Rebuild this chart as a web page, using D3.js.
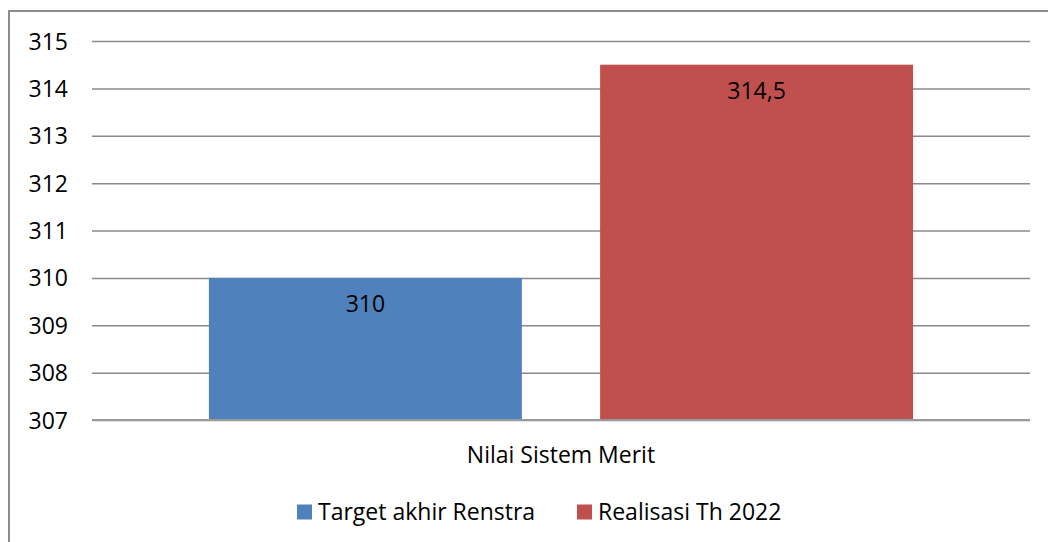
<!DOCTYPE html>
<html>
<head>
<meta charset="utf-8">
<script src="https://cdn.jsdelivr.net/npm/d3@7"></script>
<style>
  body { margin: 0; background: #fff; }
  svg text { font-family: "Open Sans", sans-serif; fill: #000; }
</style>
</head>
<body>
<svg id="chart" width="1048" height="542"></svg>
<script>
// chart data
var categories = ['Nilai Sistem Merit'];
var seriesNames = ['Target akhir Renstra', 'Realisasi Th 2022'];
var seriesValues = [310, 314.5];
var seriesLabels = ['310', '314,5'];
var seriesColors = ['#4f81bd', '#c0504d'];
var yTicks = [307, 308, 309, 310, 311, 312, 313, 314, 315];

var FONT = '23px';
var svg = d3.select('#chart');

// outer frame (only left and top visible in picture)
svg.append('path')
    .attr('d', 'M9,542 V11 H1048')
    .attr('fill', 'none')
    .attr('stroke', '#8c8c8c')
    .attr('stroke-width', 2);

var plotLeft = 92, plotRight = 1030, plotTop = 41, plotBottom = 420;

var y = d3.scaleLinear().domain([307, 315]).range([plotBottom, plotTop]);

var x0 = d3.scaleBand().domain(categories).range([plotLeft, plotRight])
    .paddingInner(0).paddingOuter(0.166);
var x1 = d3.scaleBand().domain(seriesNames).range([0, x0.bandwidth()])
    .paddingInner(0.2).paddingOuter(0);

// gridlines + tick labels
var yAxis = d3.axisLeft(y).tickValues(yTicks).tickSize(-(plotRight - plotLeft)).tickFormat(d3.format('d'));
var ga = svg.append('g').attr('transform', 'translate(' + plotLeft + ',0)').call(yAxis);
ga.select('.domain').remove();
ga.selectAll('.tick line').attr('stroke', '#8a8a8a').attr('stroke-width', 1.5);
ga.selectAll('.tick text')
    .attr('x', -24)
    .attr('dy', '0.35em')
    .style('font-family', '"Open Sans", sans-serif')
    .style('font-size', FONT);

// bars
var groups = svg.selectAll('g.cat').data(categories).enter().append('g')
    .attr('class', 'cat')
    .attr('transform', function (d) { return 'translate(' + x0(d) + ',0)'; });

groups.selectAll('rect').data(seriesNames).enter().append('rect')
    .attr('x', function (d) { return x1(d); })
    .attr('y', function (d, i) { return y(seriesValues[i]); })
    .attr('width', x1.bandwidth())
    .attr('height', function (d, i) { return plotBottom - y(seriesValues[i]); })
    .attr('fill', function (d, i) { return seriesColors[i]; });

groups.selectAll('text.lbl').data(seriesNames).enter().append('text')
    .attr('class', 'lbl')
    .attr('x', function (d) { return x1(d) + x1.bandwidth() / 2; })
    .attr('y', function (d, i) { return y(seriesValues[i]) + 26; })
    .attr('dy', '0.35em')
    .attr('text-anchor', 'middle')
    .style('font-size', FONT)
    .text(function (d, i) { return seriesLabels[i]; });

// bottom line over bars
svg.append('line')
    .attr('x1', plotLeft).attr('x2', plotRight)
    .attr('y1', plotBottom).attr('y2', plotBottom)
    .attr('stroke', '#9a9a9a').attr('stroke-width', 2);

// category label
svg.selectAll('text.catlbl').data(categories).enter().append('text')
    .attr('class', 'catlbl')
    .attr('x', function (d) { return x0(d) + x0.bandwidth() / 2; })
    .attr('y', 455)
    .attr('dy', '0.35em')
    .attr('text-anchor', 'middle')
    .style('font-size', FONT)
    .text(function (d) { return d; });

// legend
var legendX = [297, 577];
var lg = svg.selectAll('g.leg').data(seriesNames).enter().append('g')
    .attr('class', 'leg')
    .attr('transform', function (d, i) { return 'translate(' + legendX[i] + ',512)'; });
lg.append('rect')
    .attr('x', 0).attr('y', -7.5)
    .attr('width', 15).attr('height', 15)
    .attr('fill', function (d, i) { return seriesColors[i]; });
lg.append('text')
    .attr('x', 21)
    .attr('dy', '0.35em')
    .style('font-size', FONT)
    .text(function (d) { return d; });
</script>
</body>
</html>
